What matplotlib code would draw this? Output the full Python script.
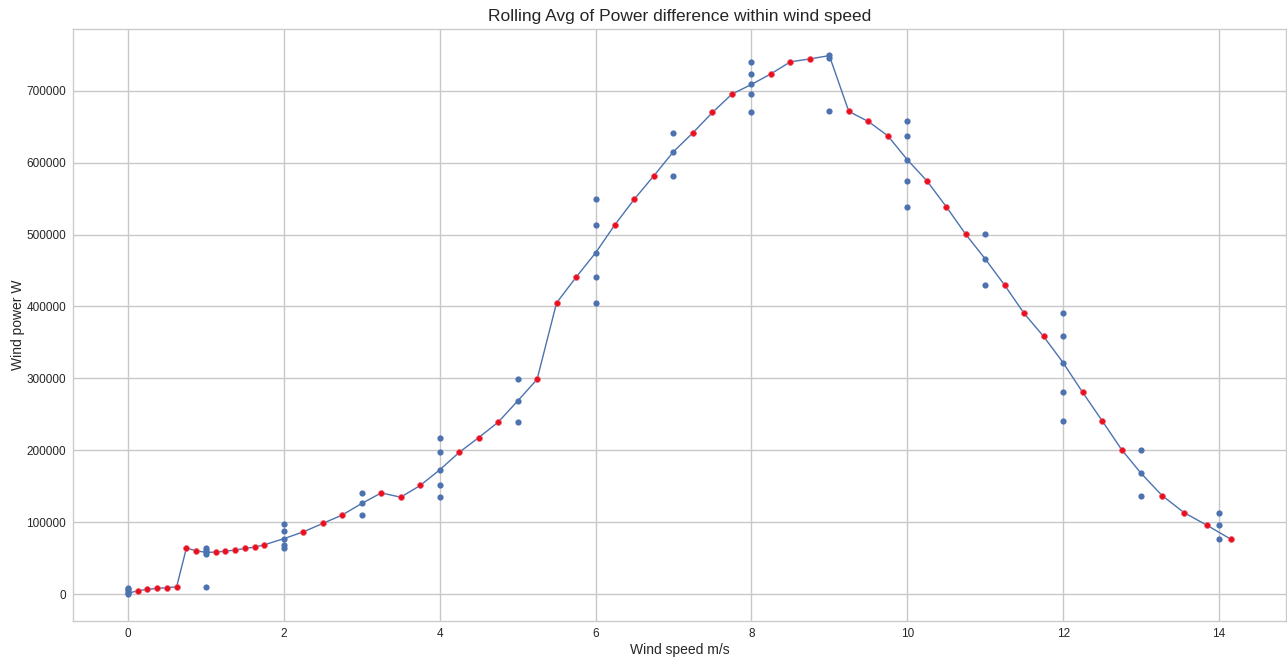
import matplotlib
matplotlib.use("Agg")
import matplotlib.pyplot as plt
import seaborn as sns
import numpy as np

sns.set_theme(style="whitegrid")
plt.rcParams['font.family'] = ['Liberation Sans', 'DejaVu Sans']

# Raw wind power values (W) per integer wind speed (m/s)
scatter_x = ([0]*5 + [1]*5 + [2]*5 + [3]*3 + [4]*5 + [5]*3 + [6]*5 + [7]*3 +
             [8]*5 + [9]*3 + [10]*5 + [11]*3 + [12]*5 + [13]*3 + [14]*3)
scatter_y = [0, 2000, 4000, 6500, 9000,
             10000, 56000, 58000, 61000, 64000,
             64000, 68000, 77000, 87000, 98000,
             110000, 126000, 140700,
             134700, 151000, 172700, 197000, 217600,
             239000, 268500, 298600,
             405000, 440700, 474500, 513900, 549600,
             582000, 615300, 641700,
             669900, 695400, 708800, 723600, 740300,
             671300, 745400, 749500,
             538900, 575000, 604200, 637500, 657400,
             429600, 466200, 500500,
             241200, 280600, 321800, 358300, 390300,
             137000, 168000, 201000,
             76400, 95400, 113400]

# Rolling average points (red)
roll_x = [0.125, 0.25, 0.375, 0.5, 0.625, 0.75, 0.875, 1.125, 1.25, 1.375, 1.5,
          1.625, 1.75, 2.25, 2.5, 2.75, 3.25, 3.5, 3.75, 4.25, 4.5, 4.75, 5.25,
          5.5, 5.75, 6.25, 6.5, 6.75, 7.25, 7.5, 7.75, 8.25, 8.5, 8.75, 9.25,
          9.5, 9.75, 10.25, 10.5, 10.75, 11.25, 11.5, 11.75, 12.25, 12.5, 12.75,
          13.27, 13.55, 13.85, 14.15]
roll_y = [4600, 6500, 7900, 8800, 10200, 63900, 60200, 58300, 59700, 61100, 63400,
          65300, 68500, 86500, 98200, 110000, 140700, 134700, 151000, 197000,
          217600, 239000, 298600, 405000, 440700, 513900, 549600, 582000, 641700,
          669900, 695400, 723600, 740300, 744400, 671300, 657400, 637500, 575000,
          538900, 500500, 429600, 390300, 358300, 280600, 241200, 201000, 137000,
          113400, 95400, 76400]

# Line values at integer wind speeds (mean)
mean_x = [0, 1, 2, 3, 4, 5, 6, 7, 8, 9, 10, 11, 12, 13]
mean_y = [1000, 58000, 77000, 126000, 172700, 268500, 474500, 615300, 708800,
          749000, 604200, 466200, 321800, 168000]

line_pts = sorted(zip(mean_x + roll_x, mean_y + roll_y))
line_x = [p[0] for p in line_pts]
line_y = [p[1] for p in line_pts]

fig = plt.figure(figsize=(12.87, 6.57), dpi=100)
ax = fig.add_axes([73/1287, (657-621)/657, (1286-73)/1287, (621-29)/657])

blue = '#4c72b0'
ax.plot(line_x, line_y, color=blue, lw=1.0, zorder=2)
ax.scatter(scatter_x, scatter_y, color=blue, s=20, zorder=3, linewidths=0)
ax.scatter(roll_x, roll_y, color='#e8101e', s=18, zorder=4, edgecolors='#f06070', linewidths=0.5)

ax.set_xlim(-0.705, 14.86)
ax.set_ylim(-37500, 786000)
ax.set_xticks([0, 2, 4, 6, 8, 10, 12, 14])
ax.set_yticks([0, 100000, 200000, 300000, 400000, 500000, 600000, 700000])
ax.ticklabel_format(style='plain', axis='y')
ax.tick_params(labelsize=8.5, colors='#262626', length=0)
ax.tick_params(axis='x', pad=5)
ax.tick_params(axis='y', pad=5)
for s in ax.spines.values():
    s.set_color('#cccccc')
    s.set_linewidth(1)
ax.grid(True, color='#c8c8c8', lw=1)

ax.set_title("Rolling Avg of Power difference within wind speed", fontsize=12.5, color='#262626', pad=6)
ax.set_xlabel("Wind speed m/s", fontsize=10, color='#262626', labelpad=2)
ax.set_ylabel("Wind power W", fontsize=10, color='#262626', labelpad=1)

fig.savefig("out.png", dpi=100)
